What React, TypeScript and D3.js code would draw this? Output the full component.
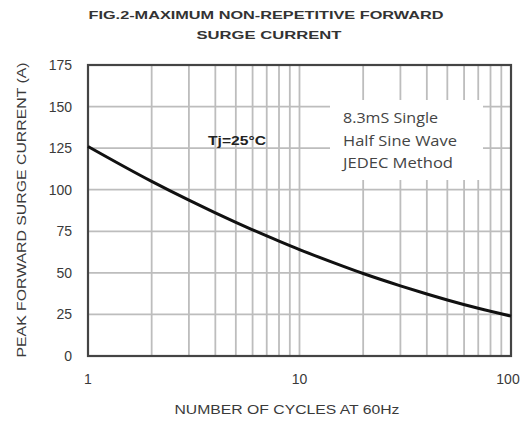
import React from "react";
import * as d3 from "d3";

const cycles = [1, 2, 3, 4, 5, 6, 8, 10, 15, 20, 30, 40, 50, 70, 100];
const current = [126, 105, 93.7, 86.1, 80.4, 75.9, 69.1, 64, 55.4, 49.6, 42.2, 37.3, 33.7, 28.7, 24];
const yTicks = [0, 25, 50, 75, 100, 125, 150, 175];
const xTicks = [1, 10, 100];
const xGrid = [2, 3, 4, 5, 6, 7, 8, 9, 10, 20, 30, 40, 50, 60, 70, 80, 90];
const noteLines = ["8.3mS Single", "Half Sine Wave", "JEDEC Method"];
const noteWidths = [95, 114, 110];

export default function App() {
  const W = 529, H = 424;
  const L = 88, R = 511, T = 65, B = 356;
  const x = d3.scaleLog().domain([1, 100]).range([L, R]);
  const y = d3.scaleLinear().domain([0, 175]).range([B, T]);
  const pts: [number, number][] = cycles.map((c, i) => [x(c), y(current[i])]);
  const line = d3.line().curve(d3.curveMonotoneX)(pts) || "";
  const font = "'Liberation Sans', Arial, sans-serif";
  const box = { x0: 330, x1: 483, y0: 100, y1: 180 };
  return (
    <div style={{ position: "absolute", left: 0, top: 0 }}>
      <svg width={W} height={H} style={{ display: "block", background: "#fff" }}>
        <rect x={0} y={0} width={W} height={H} fill="#fff" />
        {xGrid.map((g) => (
          <line key={"vx" + g} x1={x(g)} x2={x(g)} y1={T} y2={B} stroke="#bdbdbd" strokeWidth={1.8} />
        ))}
        {yTicks.slice(1, -1).map((t) => (
          <line key={"hy" + t} x1={L} x2={R} y1={y(t)} y2={y(t)} stroke="#bdbdbd" strokeWidth={1.8} />
        ))}
        <rect x={box.x0} y={box.y0} width={box.x1 - box.x0} height={box.y1 - box.y0} fill="#fff" />
        <rect x={L} y={T} width={R - L} height={B - T} fill="none" stroke="#444" strokeWidth={2.2} />
        <path d={line} fill="none" stroke="#111" strokeWidth={3} />
        <g fontFamily={font} fill="#333" fontSize={11} fontWeight="bold">
          <text x={266} y={19} textAnchor="middle" textLength={355} lengthAdjust="spacingAndGlyphs">
            FIG.2-MAXIMUM NON-REPETITIVE FORWARD
          </text>
          <text x={269} y={39} textAnchor="middle" textLength={145} lengthAdjust="spacingAndGlyphs">
            SURGE CURRENT
          </text>
        </g>
        <g fontFamily={font} fill="#3a3a3a" fontSize={14}>
          {yTicks.map((t) => (
            <text key={"yt" + t} x={72} y={y(t) + 5} textAnchor="end">{t}</text>
          ))}
          {xTicks.map((t) => (
            <text key={"xt" + t} x={t === 100 ? x(t) - 3 : x(t)} y={384} textAnchor="middle">{t}</text>
          ))}
        </g>
        <g fontFamily={font} fill="#3a3a3a" fontSize={12}>
          <text x={287} y={414} textAnchor="middle" textLength={225} lengthAdjust="spacingAndGlyphs">
            NUMBER OF CYCLES AT 60Hz
          </text>
          <text transform={`translate(26,210) rotate(-90)`} textAnchor="middle" textLength={295} lengthAdjust="spacingAndGlyphs">
            PEAK FORWARD SURGE CURRENT (A)
          </text>
        </g>
        <text x={208} y={145} fontFamily={font} fontSize={12} fontWeight="bold" fill="#222" textLength={58} lengthAdjust="spacingAndGlyphs">Tj=25°C</text>
        <g fontFamily="'Open Sans', sans-serif" fontSize={14} fill="#444">
          {noteLines.map((s, i) => (
            <text key={s} x={343} y={123 + i * 22.5} textLength={noteWidths[i]} lengthAdjust="spacingAndGlyphs">{s}</text>
          ))}
        </g>
      </svg>
    </div>
  );
}
